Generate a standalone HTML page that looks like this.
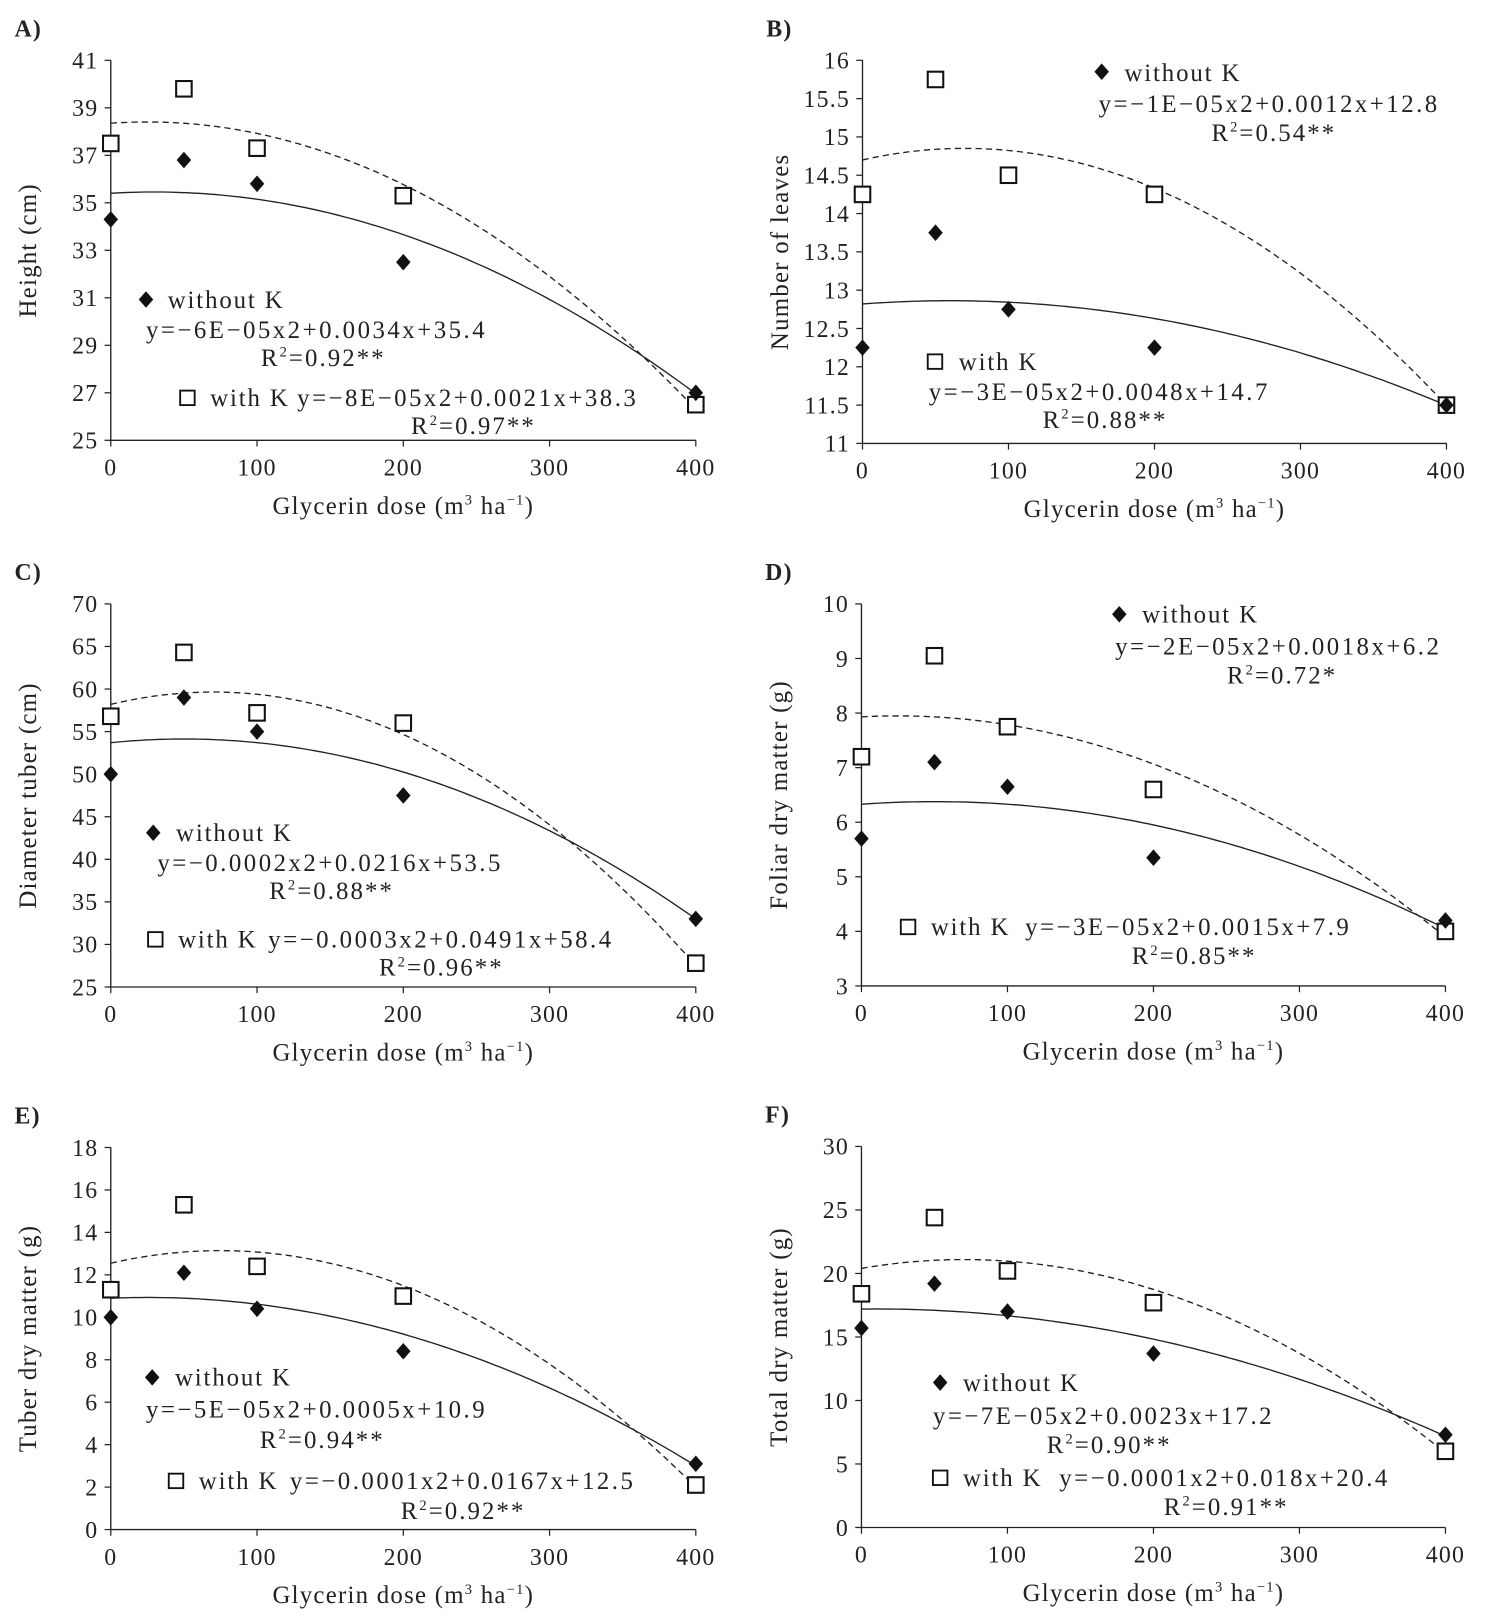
<!DOCTYPE html>
<html><head><meta charset="utf-8"><style>
html,body{margin:0;padding:0;background:#fff}
svg{display:block}
text{font-family:"Liberation Serif",serif;fill:#222;letter-spacing:1.2px}
</style></head><body>
<svg id="fig" width="1491" height="1623" viewBox="0 1.5 1440 1564" xmlns="http://www.w3.org/2000/svg"></svg>
<script>
const doses = [0, 50, 100, 200, 400];
const xTicks = [0, 100, 200, 300, 400];
const withoutA = [34.3, 36.8, 35.8, 32.5, 27.0];
const withA = [37.5, 39.8, 37.3, 35.3, 26.5];
const withoutB = [12.25, 13.75, 12.75, 12.25, 11.5];
const withB = [14.25, 15.75, 14.5, 14.25, 11.5];
const withoutC = [50, 59, 55, 47.5, 33];
const withC = [56.8, 64.3, 57.2, 56, 27.8];
const withoutD = [5.7, 7.1, 6.65, 5.35, 4.2];
const withD = [7.2, 9.05, 7.75, 6.6, 4.0];
const withoutE = [10.0, 12.1, 10.4, 8.4, 3.1];
const withE = [11.3, 15.3, 12.4, 11.0, 2.1];
const withoutF = [15.7, 19.2, 17.0, 13.7, 7.3];
const withF = [18.4, 24.4, 20.2, 17.7, 6.0];
const fitWithoutA = [-6.2e-5, 0.0037, 35.4], fitWithA = [-8.6e-5, 0.0043, 38.35];
const fitWithoutB = [-1.18e-5, 0.00141, 12.82], fitWithB = [-3.08e-5, 0.00431, 14.7];
const fitWithoutC = [-1.725e-4, 0.01725, 53.7], fitWithC = [-2.95e-4, 0.0413, 58.2];
const fitWithoutD = [-1.9e-5, 0.0019, 6.33], fitWithD = [-2.88e-5, 0.00144, 7.93];
const fitWithoutE = [-5.64e-5, 0.00282, 10.9], fitWithE = [-1.055e-4, 0.0158, 12.55];
const fitWithoutF = [-6.58e-5, 0.0013, 17.2], fitWithF = [-1.40e-4, 0.0197, 20.4];
const yTicksA = [25,27,29,31,33,35,37,39,41];
const yTicksB = [11,11.5,12,12.5,13,13.5,14,14.5,15,15.5,16];
const yTicksC = [25,30,35,40,45,50,55,60,65,70];
const yTicksD = [3,4,5,6,7,8,9,10];
const yTicksE = [0,2,4,6,8,10,12,14,16,18];
const yTicksF = [0,5,10,15,20,25,30];

const NS='http://www.w3.org/2000/svg', svg=document.getElementById('fig');
function mk(tag, attrs, parent){const e=document.createElementNS(NS,tag);for(const k in attrs)e.setAttribute(k,attrs[k]);(parent||svg).appendChild(e);return e;}
function txt(s,x,y,size,anchor,parent){const t=mk('text',{x:x,y:y,'font-size':size,'text-anchor':anchor||'start'},parent);t.innerHTML=s;return t;}

const panels=[
 {id:'a',label:'A)',x0:107,x1:672,yt:58,yb:425,ticks:yTicksA,wo:withoutA,wi:withA,fo:fitWithoutA,fi:fitWithA,title:'Height (cm)',
  leg:{d:[141,289],dw:[162,297],de:[141,326,'y=−6E−05x2+0.0034x+35.4'],dr:[252,353,'0.92**'],s:[181,384],sw:[203,392],se:[287,392,'y=−8E−05x2+0.0021x+38.3'],sr:[397,419,'0.97**']}},
 {id:'b',label:'B)',x0:833,x1:1397,yt:58,yb:428,ticks:yTicksB,wo:withoutB,wi:withB,fo:fitWithoutB,fi:fitWithB,title:'Number of leaves',
  leg:{d:[1064,69],dw:[1086,78],de:[1061,108,'y=−1E−05x2+0.0012x+12.8'],dr:[1170,136,'0.54**'],s:[903,349],sw:[926,357],se:[897,386,'y=−3E−05x2+0.0048x+14.7'],sr:[1007,413,'0.88**']}},
 {id:'c',label:'C)',x0:107,x1:672,yt:583,yb:953,ticks:yTicksC,wo:withoutC,wi:withC,fo:fitWithoutC,fi:fitWithC,title:'Diameter tuber (cm)',
  leg:{d:[148,804],dw:[170,812],de:[152,841,'y=−0.0002x2+0.0216x+53.5'],dr:[260,868,'0.88**'],s:[150,907],sw:[172,915],se:[259,915,'y=−0.0003x2+0.0491x+58.4'],sr:[366,942,'0.96**']}},
 {id:'d',label:'D)',x0:832,x1:1396,yt:583,yb:952,ticks:yTicksD,wo:withoutD,wi:withD,fo:fitWithoutD,fi:fitWithD,title:'Foliar dry matter (g)',
  leg:{d:[1081,593],dw:[1103,601],de:[1077,632,'y=−2E−05x2+0.0018x+6.2'],dr:[1185,660,'0.72*'],s:[877,895],sw:[899,903],se:[990,903,'y=−3E−05x2+0.0015x+7.9'],sr:[1093,931,'0.85**']}},
 {id:'e',label:'E)',x0:107,x1:672,yt:1108,yb:1477,ticks:yTicksE,wo:withoutE,wi:withE,fo:fitWithoutE,fi:fitWithE,title:'Tuber dry matter (g)',
  leg:{d:[147,1330],dw:[169,1338],de:[141,1369,'y=−5E−05x2+0.0005x+10.9'],dr:[251,1398,'0.94**'],s:[170,1430],sw:[192,1438],se:[280,1438,'y=−0.0001x2+0.0167x+12.5'],sr:[387,1467,'0.92**']}},
 {id:'f',label:'F)',x0:832,x1:1396,yt:1107,yb:1475,ticks:yTicksF,wo:withoutF,wi:withF,fo:fitWithoutF,fi:fitWithF,title:'Total dry matter (g)',
  leg:{d:[908,1335],dw:[930,1343],de:[901,1375,'y=−7E−05x2+0.0023x+17.2'],dr:[1011,1403,'0.90**'],s:[908,1427],sw:[930,1435],se:[1023,1435,'y=−0.0001x2+0.018x+20.4'],sr:[1124,1463,'0.91**']}}
];

panels.forEach(p=>{
  const g=mk('g',{});
  
  
  const ymin=p.ticks[0], ymax=p.ticks[p.ticks.length-1];
  const X=v=>p.x0+(v/400)*(p.x1-p.x0);
  const Y=v=>p.yb-(v-ymin)/(ymax-ymin)*(p.yb-p.yt);
  const lab=txt(p.label,p.x0-93,p.yt-23,23,'start',g);
  lab.setAttribute('font-weight','bold');
  
  
  const ax=mk('path',{d:`M${p.x0},${p.yt} V${p.yb} H${p.x1}`,stroke:'#222','stroke-width':1.3,fill:'none'},g);
  
  
  p.ticks.forEach(t=>{
    mk('line',{x1:p.x0-6,x2:p.x0,y1:Y(t),y2:Y(t),stroke:'#222','stroke-width':1.2},g);
    const tl=txt(String(t),p.x0-12,Y(t)+8,23,'end',g);
    
    
  });
  xTicks.forEach(t=>{
    mk('line',{x1:X(t),x2:X(t),y1:p.yb,y2:p.yb+6,stroke:'#222','stroke-width':1.2},g);
    const tl=txt(String(t),X(t),p.yb+34,23,'middle',g);
    
    
  });
  const xt=txt('Glycerin dose (m<tspan font-size="14" dy="-9">3</tspan><tspan dy="9"> ha</tspan><tspan font-size="14" dy="-9">−1</tspan><tspan dy="9">)</tspan>',(p.x0+p.x1)/2,p.yb+71,24,'middle',g);
  
  
  const cy=(p.yt+p.yb)/2;
  const yt=txt(p.title,0,0,24,'middle',g);
  yt.setAttribute('transform',`translate(${p.x0-72},${cy}) rotate(-90)`);
  
  
  [[p.fo,''],[p.fi,'6,4']].forEach(([f,dash],i)=>{
    let d='';
    for(let x=0;x<=400;x+=4){const v=f[0]*x*x+f[1]*x+f[2];d+=(x?'L':'M')+X(x).toFixed(1)+','+Y(v).toFixed(1);}
    const c=mk('path',{d:d,stroke:'#222','stroke-width':1.3,fill:'none'},g);
    if(dash)c.setAttribute('stroke-dasharray',dash);
    
    
  });
  p.wi.forEach((v,i)=>{
    const s=mk('rect',{x:X(doses[i])-7.5,y:Y(v)-7.5,width:15,height:15,fill:'#fff',stroke:'#111','stroke-width':2},g);
    
    
  });
  p.wo.forEach((v,i)=>{
    const cx=X(doses[i]),cyy=Y(v);
    const s=mk('path',{d:`M${cx},${cyy-8}L${cx+7},${cyy}L${cx},${cyy+8}L${cx-7},${cyy}Z`,fill:'#111'},g);
    
    
  });
  const L=p.leg;
  const lg=mk('g',{},g);
  
  
  mk('path',{d:`M${L.d[0]},${L.d[1]-8}L${L.d[0]+7},${L.d[1]}L${L.d[0]},${L.d[1]+8}L${L.d[0]-7},${L.d[1]}Z`,fill:'#111'},lg);
  txt('without K',L.dw[0],L.dw[1],24,'start',lg).setAttribute('style','letter-spacing:1.8px');
  txt(L.de[2],L.de[0],L.de[1],24,'start',lg).setAttribute('style','letter-spacing:2.4px');
  txt('R<tspan font-size="14" dy="-9">2</tspan><tspan dy="9">='+L.dr[2]+'</tspan>',L.dr[0],L.dr[1],24,'start',lg).setAttribute('style','letter-spacing:2px');
  mk('rect',{x:L.s[0]-7,y:L.s[1]-7,width:14,height:14,fill:'#fff',stroke:'#111','stroke-width':1.8},lg);
  txt('with K',L.sw[0],L.sw[1],24,'start',lg).setAttribute('style','letter-spacing:1.8px');
  txt(L.se[2],L.se[0],L.se[1],24,'start',lg).setAttribute('style','letter-spacing:2.4px');
  txt('R<tspan font-size="14" dy="-9">2</tspan><tspan dy="9">='+L.sr[2]+'</tspan>',L.sr[0],L.sr[1],24,'start',lg).setAttribute('style','letter-spacing:2px');
});
</script>
</body></html>
